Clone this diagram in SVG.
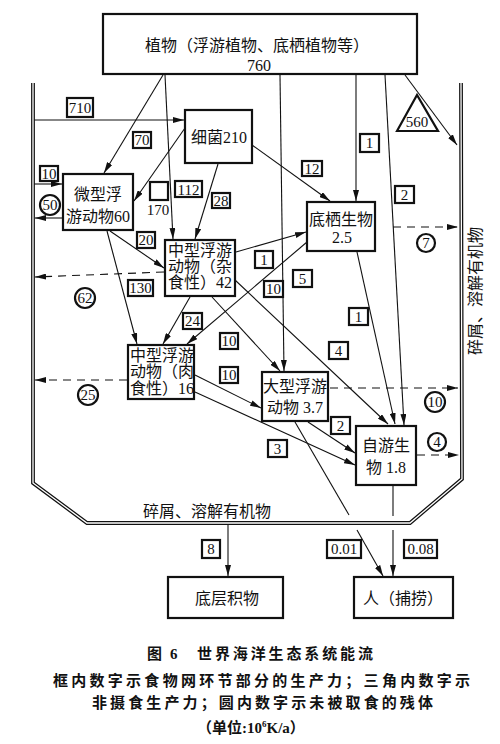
<svg xmlns="http://www.w3.org/2000/svg" width="500" height="744" viewBox="0 0 500 744">
<style>
.box{fill:#fff;stroke:#111;stroke-width:2.2}
.lb{fill:#fff;stroke:#111;stroke-width:2.2}
.t{font-family:"Liberation Serif","Noto Sans CJK SC",serif;font-size:16px;fill:#111}
.n{font-family:"Liberation Serif","Noto Sans CJK SC",serif;font-size:15px;fill:#111;text-anchor:middle}
.c{stroke:#111;stroke-width:1.1;fill:none}
.a{marker-end:url(#ah)}
.d{stroke-dasharray:8 6}
.cap{font-family:"Liberation Serif","Noto Sans CJK SC",serif;font-weight:bold;font-size:15px;fill:#111}
</style>
<defs>
<marker id="ah" markerUnits="userSpaceOnUse" markerWidth="11" markerHeight="6" refX="11" refY="3" orient="auto">
<path d="M0,0 L11,3 L0,6 z" fill="#111"/>
</marker>
</defs>
<rect width="500" height="744" fill="#fff"/>

<!-- container wall (double line) -->
<g id="wall">
<path d="M33,83 L33,483 L87,523 L410,523 L462,479 L461,83" fill="none" stroke="#111" stroke-width="3.8"/>
<path d="M33,83 L33,483 L87,523 L410,523 L462,479 L461,83" fill="none" stroke="#fff" stroke-width="1.3"/>
<text class="t" font-size="15" x="143" y="517">碎屑、溶解有机物</text>
<text class="t" font-size="16" transform="translate(481,291) rotate(-90)" text-anchor="middle">碎屑、溶解有机物</text>
</g>

<!-- connectors -->
<g id="connectors">
<line class="c a" x1="163" y1="75" x2="104" y2="173"/>
<line class="c a" x1="165" y1="75" x2="173" y2="239"/>
<line class="c a" x1="280" y1="75" x2="284" y2="371"/>
<line class="c a" x1="356" y1="75" x2="356" y2="201"/>
<line class="c a" x1="385" y1="75" x2="404" y2="425"/>
<line class="c a" x1="405" y1="75" x2="457" y2="145"/>
<line class="c a" x1="34" y1="120" x2="184" y2="120"/>
<line class="c a" x1="34" y1="184" x2="62" y2="184"/>
<line class="c a" x1="62" y1="218" x2="35" y2="218"/>
<line class="c a" x1="185" y1="128" x2="134" y2="201"/>
<line class="c a" x1="218" y1="164" x2="195" y2="239"/>
<line class="c a" x1="252" y1="145" x2="330" y2="201"/>
<line class="c a" x1="110" y1="231" x2="164" y2="268"/>
<line class="c a" x1="107" y1="231" x2="137" y2="344"/>
<line class="c a d" x1="164" y1="272" x2="35" y2="277"/>
<line class="c a" x1="190" y1="297" x2="163" y2="344"/>
<line class="c a" x1="307" y1="242" x2="187" y2="344"/>
<line class="c a" x1="236" y1="252" x2="306" y2="232"/>
<line class="c a" x1="212" y1="297" x2="280" y2="371"/>
<line class="c a" x1="235" y1="280" x2="388" y2="424"/>
<line class="c a" x1="357" y1="252" x2="395" y2="424"/>
<line class="c a" x1="195" y1="375" x2="261" y2="408"/>
<line class="c a" x1="195" y1="392" x2="355" y2="465"/>
<line class="c a" x1="308" y1="422" x2="355" y2="453"/>
<line class="c" x1="295" y1="422" x2="349" y2="515"/>
<line class="c a" x1="357" y1="530" x2="383" y2="576"/>
<line class="c" x1="393" y1="486" x2="393" y2="516"/>
<line class="c a" x1="393" y1="530" x2="393" y2="576"/>
<line class="c a" x1="228" y1="525" x2="228" y2="576"/>
<line class="c a d" x1="393" y1="227" x2="458" y2="227"/>
<line class="c a d" x1="330" y1="388" x2="458" y2="388"/>
<line class="c a d" x1="417" y1="455" x2="459" y2="455"/>
<line class="c a d" x1="127" y1="380" x2="35" y2="380"/>
</g>

<!-- flow labels -->
<g id="labels">
<rect class="lb" x="67" y="98" width="26" height="19"/><text class="n" x="80" y="113">710</text>
<rect class="lb" x="133" y="132" width="18" height="16"/><text class="n" x="142" y="145">70</text>
<rect class="lb" x="40" y="166" width="18" height="15"/><text class="n" x="49" y="179">10</text>
<rect class="lb" x="150" y="182" width="18" height="18"/><text class="n" x="158" y="215">170</text>
<rect class="lb" x="175" y="181" width="27" height="16"/><text class="n" x="188.5" y="195">112</text>
<rect class="lb" x="212" y="193" width="18" height="15"/><text class="n" x="221" y="206">28</text>
<rect class="lb" x="302" y="161" width="20" height="15"/><text class="n" x="312" y="174">12</text>
<rect class="lb" x="360" y="134" width="19" height="18"/><text class="n" x="369.5" y="148">1</text>
<rect class="lb" x="395" y="186" width="19" height="17"/><text class="n" x="404.5" y="200">2</text>
<rect class="lb" x="137" y="232" width="18" height="16"/><text class="n" x="146" y="245">20</text>
<rect class="lb" x="255" y="251" width="18" height="17"/><text class="n" x="264" y="265">1</text>
<rect class="lb" x="264" y="281" width="19" height="16"/><text class="n" x="273.5" y="294">10</text>
<rect class="lb" x="293" y="270" width="19" height="17"/><text class="n" x="302.5" y="284">5</text>
<rect class="lb" x="128" y="280" width="25" height="16"/><text class="n" x="140.5" y="293">130</text>
<rect class="lb" x="183" y="313" width="19" height="16"/><text class="n" x="192.5" y="326">24</text>
<rect class="lb" x="220" y="333" width="18" height="16"/><text class="n" x="229" y="346">10</text>
<rect class="lb" x="220" y="367" width="18" height="16"/><text class="n" x="229" y="380">10</text>
<rect class="lb" x="349" y="308" width="19" height="17"/><text class="n" x="358.5" y="322">1</text>
<rect class="lb" x="329" y="342" width="19" height="17"/><text class="n" x="338.5" y="356">4</text>
<rect class="lb" x="331" y="417" width="19" height="17"/><text class="n" x="340.5" y="431">2</text>
<rect class="lb" x="268" y="440" width="19" height="17"/><text class="n" x="277.5" y="454">3</text>
<rect class="lb" x="202" y="540" width="18" height="18"/><text class="n" x="211" y="554">8</text>
<rect class="lb" x="327" y="540" width="34" height="18"/><text class="n" x="344" y="554">0.01</text>
<rect class="lb" x="404" y="540" width="33" height="18"/><text class="n" x="420.5" y="554">0.08</text>
<!-- circles: uneaten residue -->
<circle class="lb" cx="50" cy="205" r="10" stroke-width="1.6"/><text class="n" font-size="14" x="50" y="210">50</text>
<circle class="lb" cx="85" cy="298" r="10" stroke-width="1.6"/><text class="n" font-size="14" x="85" y="303">62</text>
<circle class="lb" cx="88" cy="395" r="10" stroke-width="1.6"/><text class="n" font-size="14" x="88" y="400">25</text>
<circle class="lb" cx="426" cy="243" r="9" stroke-width="1.6"/><text class="n" font-size="14" x="426" y="248">7</text>
<circle class="lb" cx="435" cy="402" r="10" stroke-width="1.6"/><text class="n" font-size="14" x="435" y="407">10</text>
<circle class="lb" cx="437" cy="442" r="9" stroke-width="1.6"/><text class="n" font-size="14" x="437" y="447">4</text>
<!-- triangle -->
<polygon class="lb" points="397,131 417,95 438,131"/><text class="n" x="417" y="127">560</text>
</g>

<!-- nodes -->
<g id="plants">
<rect class="box" x="103" y="14" width="314" height="60"/>
<text class="t" font-size="15" x="257" y="51" text-anchor="middle">植物（浮游植物、底栖植物等）</text>
<text class="t" font-size="15" x="259" y="71" text-anchor="middle">760</text>
</g>
<g id="bacteria">
<rect class="box" x="185" y="110" width="67" height="53"/>
<text class="t" font-size="15" x="219" y="143" text-anchor="middle">细菌210</text>
</g>
<g id="microzoo">
<rect class="box" x="63" y="174" width="70" height="56"/>
<text class="t" x="98" y="200" text-anchor="middle">微型浮</text>
<text class="t" font-size="15.5" x="98" y="222" text-anchor="middle">游动物60</text>
</g>
<g id="omnivore">
<rect class="box" x="165" y="240" width="70" height="56"/>
<text class="t" x="168" y="256">中型浮游</text>
<text class="t" x="168" y="272">动物（杂</text>
<text class="t" x="168" y="288">食性）42</text>
</g>
<g id="benthos">
<rect class="box" x="307" y="202" width="68" height="49"/>
<text class="t" x="341" y="225" text-anchor="middle">底栖生物</text>
<text class="t" x="342" y="243" text-anchor="middle">2.5</text>
</g>
<g id="carnivore">
<rect class="box" x="128" y="345" width="66" height="54"/>
<text class="t" font-size="15.5" x="130" y="361">中型浮游</text>
<text class="t" font-size="15.5" x="130" y="377">动物（肉</text>
<text class="t" font-size="15.5" x="130" y="394">食性）16</text>
</g>
<g id="macrozoo">
<rect class="box" x="262" y="372" width="66" height="49"/>
<text class="t" x="295" y="392" text-anchor="middle">大型浮游</text>
<text class="t" x="295" y="413" text-anchor="middle">动物 3.7</text>
</g>
<g id="nekton">
<rect class="box" x="356" y="426" width="60" height="59"/>
<text class="t" font-size="15" x="386" y="451" text-anchor="middle">自游生</text>
<text class="t" font-size="15" x="386" y="473" text-anchor="middle">物 1.8</text>
</g>
<g id="sediment">
<rect class="box" x="168" y="577" width="115" height="41"/>
<text class="t" font-size="15" x="227" y="604" text-anchor="middle">底层积物</text>
</g>
<g id="human">
<rect class="box" x="354" y="577" width="99" height="41"/>
<text class="t" font-size="15" x="403" y="604" text-anchor="middle">人（捕捞）</text>
</g>

<!-- caption -->
<g id="caption">
<text class="cap" x="147" y="659">图</text>
<text class="cap" x="170" y="659">6</text>
<text class="cap" x="197" y="659" textLength="176" lengthAdjust="spacing">世界海洋生态系统能流</text>
<text class="cap" x="53" y="686" textLength="417" lengthAdjust="spacing">框内数字示食物网环节部分的生产力；三角内数字示</text>
<text class="cap" x="92" y="708" textLength="341" lengthAdjust="spacing">非摄食生产力；圆内数字示未被取食的残体</text>
<text class="cap" x="197" y="733">（单位:10<tspan dy="-6" font-size="9">6</tspan><tspan dy="6">K/a）</tspan></text>
</g>
</svg>
